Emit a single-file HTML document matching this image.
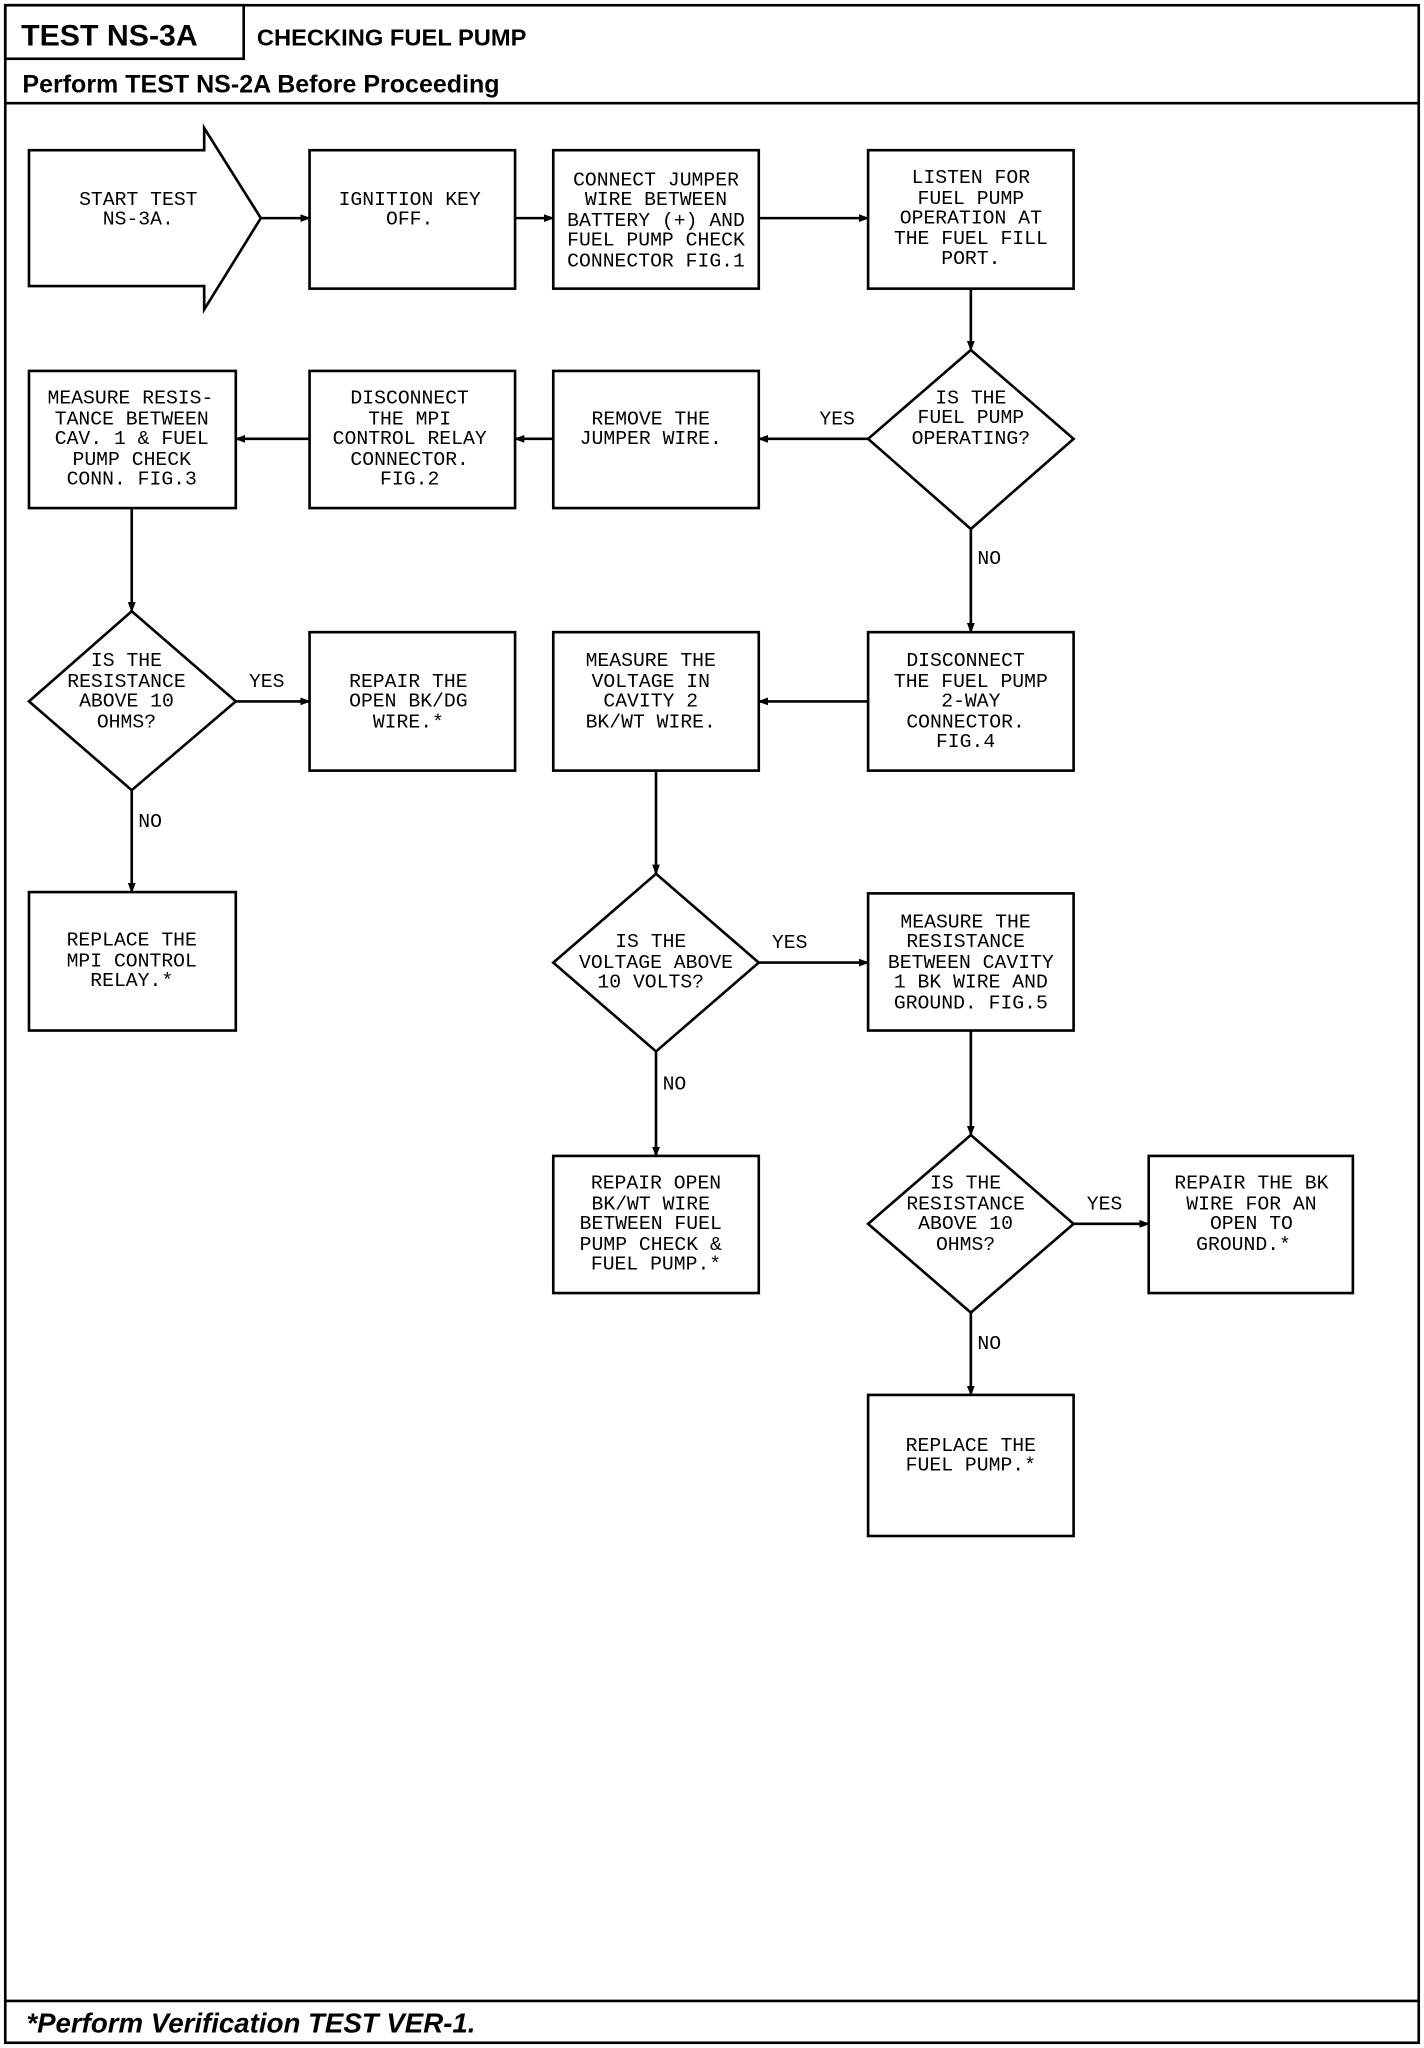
<!DOCTYPE html>
<html><head><meta charset="utf-8"><style>
html,body{margin:0;padding:0;background:#fff;}
svg{display:block;}
.t{font-family:"Liberation Mono",monospace;font-size:15px;fill:#000;text-anchor:middle;}
.l{font-family:"Liberation Mono",monospace;font-size:15px;fill:#000;}
</style></head><body>
<svg width="1424" height="2048" viewBox="0 0 1081 1568" preserveAspectRatio="none" xmlns="http://www.w3.org/2000/svg">
<defs><marker id="a" markerWidth="8" markerHeight="8" refX="7" refY="4" orient="auto" markerUnits="userSpaceOnUse"><path d="M0,1 L8,4 L0,7 Z" fill="#000"/></marker></defs>
<g fill="none" stroke="#000" stroke-width="2">
<rect x="4" y="4" width="1073" height="1560"/>
<rect x="4" y="4" width="181" height="41"/>
<line x1="4" y1="79" x2="1077" y2="79"/>
<line x1="4" y1="1532" x2="1077" y2="1532"/>
<!-- start arrow -->
<path d="M22,115 L155,115 L155,98 L198,167 L155,237 L155,219 L22,219 Z"/>
<!-- row1 -->
<rect x="235" y="115" width="156" height="106"/>
<rect x="420" y="115" width="156" height="106"/>
<rect x="659" y="115" width="156" height="106"/>
<!-- row2 -->
<rect x="22" y="284" width="157" height="105"/>
<rect x="235" y="284" width="156" height="105"/>
<rect x="420" y="284" width="156" height="105"/>
<path d="M737,268 L815,336 L737,405 L659,336 Z"/>
<!-- row3 -->
<path d="M100,468 L179,537 L100,605 L22,537 Z"/>
<rect x="235" y="484" width="156" height="106"/>
<rect x="420" y="484" width="156" height="106"/>
<rect x="659" y="484" width="156" height="106"/>
<!-- row4 -->
<rect x="22" y="683" width="157" height="106"/>
<path d="M498,669 L576,737 L498,805 L420,737 Z"/>
<rect x="659" y="684" width="156" height="105"/>
<!-- row5 -->
<rect x="420" y="885" width="156" height="105"/>
<path d="M737,869 L815,937 L737,1005 L659,937 Z"/>
<rect x="872" y="885" width="155" height="105"/>
<!-- row6 -->
<rect x="659" y="1068" width="156" height="108"/>
</g>
<g stroke="#000" stroke-width="2" marker-end="url(#a)">
<line x1="198" y1="167" x2="235" y2="167"/>
<line x1="391" y1="167" x2="420" y2="167"/>
<line x1="576" y1="167" x2="659" y2="167"/>
<line x1="737" y1="221" x2="737" y2="268"/>
<line x1="659" y1="336" x2="576" y2="336"/>
<line x1="420" y1="336" x2="391" y2="336"/>
<line x1="235" y1="336" x2="179" y2="336"/>
<line x1="100" y1="389" x2="100" y2="468"/>
<line x1="179" y1="537" x2="235" y2="537"/>
<line x1="100" y1="605" x2="100" y2="683"/>
<line x1="737" y1="405" x2="737" y2="484"/>
<line x1="659" y1="537" x2="576" y2="537"/>
<line x1="498" y1="590" x2="498" y2="669"/>
<line x1="576" y1="737" x2="659" y2="737"/>
<line x1="498" y1="805" x2="498" y2="885"/>
<line x1="737" y1="789" x2="737" y2="869"/>
<line x1="815" y1="937" x2="872" y2="937"/>
<line x1="737" y1="1005" x2="737" y2="1068"/>
</g>
<g font-family="'Liberation Sans',sans-serif" font-weight="bold" fill="#000">
<text x="16" y="35" font-size="23">TEST NS-3A</text>
<text x="195" y="35" font-size="18">CHECKING FUEL PUMP</text>
<text x="17" y="71" font-size="19">Perform TEST NS-2A Before Proceeding</text>
<text x="20" y="1556" font-size="21" font-style="italic">*Perform Verification TEST VER-1.</text>
</g>
<g class="t">
<text x="105" y="157">START TEST</text><text x="105" y="172">NS-3A.</text>
<text x="311" y="157">IGNITION KEY</text><text x="311" y="172">OFF.</text>
<text x="498" y="142">CONNECT JUMPER</text><text x="498" y="157">WIRE BETWEEN</text><text x="498" y="173">BATTERY (+) AND</text><text x="498" y="188">FUEL PUMP CHECK</text><text x="498" y="204">CONNECTOR FIG.1</text>
<text x="737" y="140">LISTEN FOR</text><text x="737" y="156">FUEL PUMP</text><text x="737" y="171">OPERATION AT</text><text x="737" y="187">THE FUEL FILL</text><text x="737" y="202">PORT.</text>
<text x="99" y="309">MEASURE RESIS-</text><text x="100" y="325">TANCE BETWEEN</text><text x="100" y="340">CAV. 1 &amp; FUEL</text><text x="100" y="356">PUMP CHECK</text><text x="100" y="371">CONN. FIG.3</text>
<text x="311" y="309">DISCONNECT</text><text x="311" y="325">THE MPI</text><text x="311" y="340">CONTROL RELAY</text><text x="311" y="356">CONNECTOR.</text><text x="311" y="371">FIG.2</text>
<text x="494" y="325">REMOVE THE</text><text x="494" y="340">JUMPER WIRE.</text>
<text x="737" y="309">IS THE</text><text x="737" y="324">FUEL PUMP</text><text x="737" y="340">OPERATING?</text>
<text x="96" y="510">IS THE</text><text x="96" y="526">RESISTANCE</text><text x="96" y="541">ABOVE 10</text><text x="96" y="557">OHMS?</text>
<text x="310" y="526">REPAIR THE</text><text x="310" y="541">OPEN BK/DG</text><text x="310" y="557">WIRE.*</text>
<text x="494" y="510">MEASURE THE</text><text x="494" y="526">VOLTAGE IN</text><text x="494" y="541">CAVITY 2</text><text x="494" y="557">BK/WT WIRE.</text>
<text x="733" y="510">DISCONNECT</text><text x="737" y="526">THE FUEL PUMP</text><text x="737" y="541">2-WAY</text><text x="733" y="557">CONNECTOR.</text><text x="733" y="572">FIG.4</text>
<text x="100" y="724">REPLACE THE</text><text x="100" y="740">MPI CONTROL</text><text x="100" y="755">RELAY.*</text>
<text x="494" y="725">IS THE</text><text x="498" y="741">VOLTAGE ABOVE</text><text x="494" y="756">10 VOLTS?</text>
<text x="733" y="710">MEASURE THE</text><text x="733" y="725">RESISTANCE</text><text x="737" y="741">BETWEEN CAVITY</text><text x="737" y="756">1 BK WIRE AND</text><text x="737" y="772">GROUND. FIG.5</text>
<text x="498" y="910">REPAIR OPEN</text><text x="494" y="926">BK/WT WIRE</text><text x="494" y="941">BETWEEN FUEL</text><text x="494" y="957">PUMP CHECK &amp;</text><text x="498" y="972">FUEL PUMP.*</text>
<text x="733" y="910">IS THE</text><text x="733" y="926">RESISTANCE</text><text x="733" y="941">ABOVE 10</text><text x="733" y="957">OHMS?</text>
<text x="950" y="910">REPAIR THE BK</text><text x="950" y="926">WIRE FOR AN</text><text x="950" y="941">OPEN TO</text><text x="944" y="957">GROUND.*</text>
<text x="737" y="1111">REPLACE THE</text><text x="737" y="1126">FUEL PUMP.*</text>
</g>
<g class="l">
<text x="622" y="325">YES</text>
<text x="742" y="432">NO</text>
<text x="189" y="526">YES</text>
<text x="105" y="633">NO</text>
<text x="586" y="726">YES</text>
<text x="503" y="834">NO</text>
<text x="825" y="926">YES</text>
<text x="742" y="1033">NO</text>
</g>
</svg>
</body></html>
